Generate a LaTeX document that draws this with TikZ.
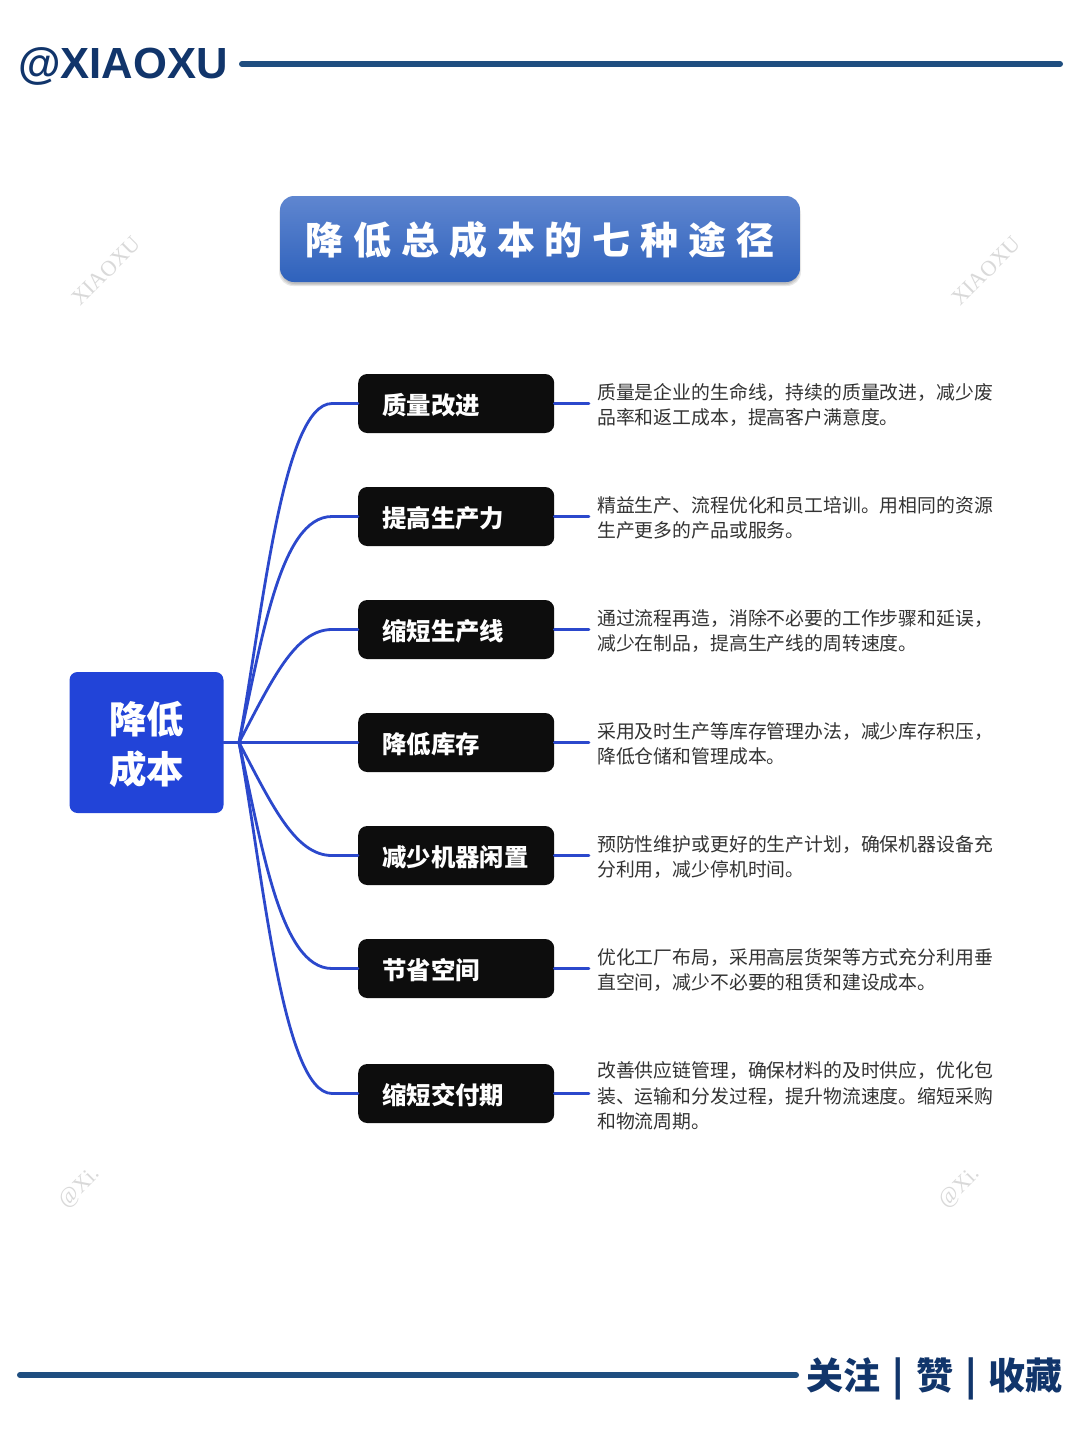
\documentclass[tikz,border=0pt]{standalone}
\usepackage{fontspec}
\setmainfont{Noto Sans CJK SC}
\newfontfamily\spaced[LetterSpace=26]{Noto Sans CJK SC}
\newfontfamily\latinb{Liberation Sans}
\newfontfamily\wm{Liberation Serif}
\definecolor{linkblue}{HTML}{2B48CC}
\definecolor{rootblue}{HTML}{2244D8}
\definecolor{barblue}{HTML}{1F4E80}
\definecolor{navytxt}{HTML}{11356B}
\definecolor{boxblack}{HTML}{0D0D0D}
\definecolor{desc}{HTML}{333333}
\definecolor{titletop}{HTML}{5F86D0}
\definecolor{titlebot}{HTML}{2F62BC}
\tikzset{
  x=1pt,y=-1pt,
  rootbox/.style={fill=rootblue,rounded corners=8pt,minimum width=154pt,minimum height=141pt,inner sep=0pt,align=center,text=white,font=\fontsize{37.5}{50}\selectfont\bfseries},
  branchbox/.style={fill=boxblack,rounded corners=9pt,minimum width=196pt,minimum height=59pt,inner sep=0pt,text=white,font=\fontsize{24.4}{30}\selectfont\bfseries,anchor=west,text width=196pt,align=left,text height=21.6pt,text depth=0pt},
  descnode/.style={anchor=west,inner xsep=8pt,inner ysep=0pt,text=desc,align=left,font=\fontsize{18.85}{25.4}\selectfont},
  link/.style={draw=linkblue,line width=2.8pt,line cap=round},
  bar/.style={draw=barblue,line width=6pt,line cap=round},
  wmark/.style={text=black!15,font=\fontsize{22}{26}\wm},
  shadowlayer/.style={fill=black,rounded corners=14pt,opacity=.09},
}
\begin{document}
\begin{tikzpicture}
\useasboundingbox (0,0) rectangle (1080,1440);
\fill[white] (0,0) rectangle (1080,1440);

% header
\node[anchor=west,inner sep=0pt,text=navytxt,font=\fontsize{43.6}{50}\latinb\bfseries] (brand) at (18,66) {@XIAOXU};
\coordinate (topend) at (1060,64);
\coordinate (topstart) at (242,64);
\draw[bar] (topstart) -- (topend);

% title
\fill[shadowlayer] (279,200) rectangle (801,286);
\fill[shadowlayer] (280,200) rectangle (800,285);
\fill[shadowlayer] (281,200) rectangle (799,284);
\node[top color=titletop,bottom color=titlebot,rounded corners=14pt,minimum width=520pt,minimum height=86pt,inner sep=0pt,text=white,font=\fontsize{38}{44}\spaced\bfseries,text height=30.8pt,text depth=0pt] (title) at (540,239) {降低总成本的七种途径};

% watermarks
\node[wmark,rotate=45] (w1) at (106,271) {XIAOXU};
\node[wmark,rotate=45] (w2) at (986,271) {XIAOXU};
\node[wmark,rotate=45] (w3) at (80,1188) {@Xi.};
\node[wmark,rotate=45] (w4) at (960,1188) {@Xi.};

% root and branches
\node[rootbox] (root) at (146.5,742.5) {\rule{0pt}{36pt}降低\\[0pt]成本};
\coordinate (hub) at (239,742.5);

\node[branchbox] (b1) at (358,403.5) {\hspace*{24pt}质量改进};
\node[branchbox] (b2) at (358,516.5) {\hspace*{24pt}提高生产力};
\node[branchbox] (b3) at (358,629.5) {\hspace*{24pt}缩短生产线};
\node[branchbox] (b4) at (358,742.5) {\hspace*{24pt}降低库存};
\node[branchbox] (b5) at (358,855.5) {\hspace*{24pt}减少机器闲置};
\node[branchbox] (b6) at (358,968.5) {\hspace*{24pt}节省空间};
\node[branchbox] (b7) at (358,1093.5) {\hspace*{24pt}缩短交付期};

\node[descnode] (d1) at (589,405) {质量是企业的生命线，持续的质量改进，减少废\\品率和返工成本，提高客户满意度。};
\node[descnode] (d2) at (589,518) {精益生产、流程优化和员工培训。用相同的资源\\生产更多的产品或服务。};
\node[descnode] (d3) at (589,631) {通过流程再造，消除不必要的工作步骤和延误，\\减少在制品，提高生产线的周转速度。};
\node[descnode] (d4) at (589,744) {采用及时生产等库存管理办法，减少库存积压，\\降低仓储和管理成本。};
\node[descnode] (d5) at (589,857) {预防性维护或更好的生产计划，确保机器设备充\\分利用，减少停机时间。};
\node[descnode] (d6) at (589,970) {优化工厂布局，采用高层货架等方式充分利用垂\\直空间，减少不必要的租赁和建设成本。};
\node[descnode] (d7) at (589,1096) {改善供应链管理，确保材料的及时供应，优化包\\装、运输和分发过程，提升物流速度。缩短采购\\和物流周期。};

% connectors
\draw[link] (root.east |- hub) -- (hub);
\draw[link] (hub) .. controls (262,620) and (282,403.5) .. (332,403.5) -- (b1.west);
\draw[link] (hub) .. controls (262,640) and (280,516.5) .. (332,516.5) -- (b2.west);
\draw[link] (hub) .. controls (272,680) and (295,629.5) .. (332,629.5) -- (b3.west);
\draw[link] (hub) -- (b4.west);
\draw[link] (hub) .. controls (272,805) and (295,855.5) .. (332,855.5) -- (b5.west);
\draw[link] (hub) .. controls (262,845) and (280,968.5) .. (332,968.5) -- (b6.west);
\draw[link] (hub) .. controls (262,865) and (282,1093.5) .. (332,1093.5) -- (b7.west);
\foreach \i in {1,...,7} {\draw[link] (b\i.east) -- (d\i.west |- b\i.east);}

% footer
\coordinate (botstart) at (20,1375);
\coordinate (botend) at (796,1375);
\draw[bar] (botstart) -- (botend);
\node[anchor=east,inner sep=0pt,text=navytxt,font=\fontsize{37}{44}\selectfont\bfseries] (follow) at (1063,1379) {关注\hspace{12pt}|\hspace{12pt}赞\hspace{12pt}|\hspace{12pt}收藏};
\end{tikzpicture}
\end{document}
